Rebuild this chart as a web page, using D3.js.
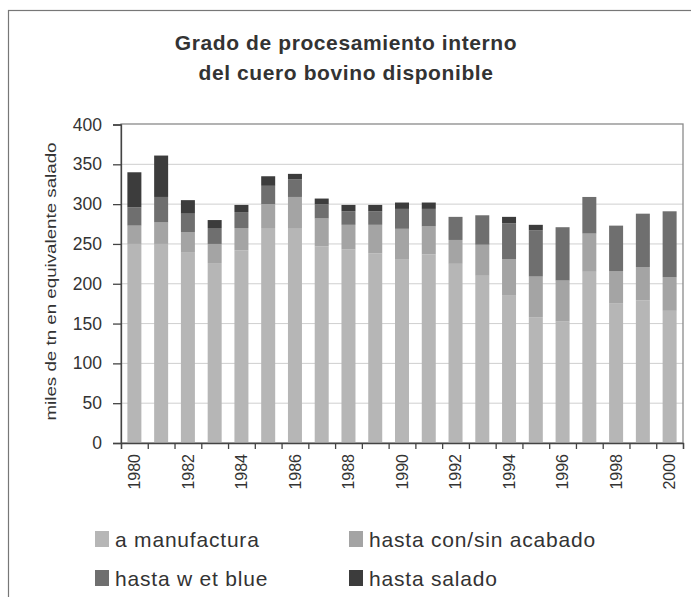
<!DOCTYPE html>
<html>
<head>
<meta charset="utf-8">
<script src="https://cdn.jsdelivr.net/npm/d3@7"></script>
<style>
  body { margin: 0; background: #fff; }
  text { font-family: "Liberation Sans", Arial, sans-serif; fill: #333; }
</style>
</head>
<body>
<script>
// years on the x axis
var years = [1980, 1981, 1982, 1983, 1984, 1985, 1986, 1987, 1988, 1989, 1990,
             1991, 1992, 1993, 1994, 1995, 1996, 1997, 1998, 1999, 2000];

// miles de tn (bottom to top)
var manufactura = [250, 250, 239, 226, 242, 270, 270, 247, 243, 238, 231, 237, 225, 210, 185, 158, 153, 215, 175, 179, 166];
var acabado     = [ 23,  27,  26,  24,  28,  30,  39,  35,  31,  36,  38,  35,  30,  39,  46,  51,  51,  48,  41,  42,  42];
var wetBlue     = [ 23,  32,  23,  20,  20,  23,  22,  18,  17,  17,  25,  22,  29,  37,  45,  58,  67,  46,  57,  67,  83];
var salado      = [ 44,  52,  17,  10,   9,  12,   7,   7,   8,   8,   8,   8,   0,   0,   8,   7,   0,   0,   0,   0,   0];

var seriesNames = ["a manufactura", "hasta con/sin acabado", "hasta w et blue", "hasta salado"];
var seriesKeys = ["manufactura", "acabado", "wetBlue", "salado"];
var colors = ["#b6b6b6", "#a4a4a4", "#6f6f6f", "#3c3c3c"];
var yTicks = [0, 50, 100, 150, 200, 250, 300, 350, 400];

var rows = years.map(function(yr, i){
  return {year: yr, manufactura: manufactura[i], acabado: acabado[i], wetBlue: wetBlue[i], salado: salado[i]};
});

var svg = d3.select("body")
   .append("svg")
   .attr("width", 691)
   .attr("height", 597);

// outer chart frame (runs off the page right and bottom)
svg.append("rect")
  .attr("x", 8.5).attr("y", 10.5)
  .attr("width", 700).attr("height", 620)
  .style("fill", "none").style("stroke", "#777").style("stroke-width", 1.2);

var plotL = 121, plotR = 683, plotT = 124, plotB = 443;

var x = d3.scaleBand().domain(years).range([plotL, plotR]).paddingInner(0.477).paddingOuter(0.2385);
var y = d3.scaleLinear().domain([0, 400]).range([plotB, plotT + 0.5]);

// gridlines
svg.append("g").selectAll("line")
  .data(yTicks.slice(1, -1))
  .enter().append("line")
  .attr("x1", plotL).attr("x2", plotR)
  .attr("y1", function(d){ return y(d); }).attr("y2", function(d){ return y(d); })
  .style("stroke", "#cfcfcf").style("stroke-width", 1);

// plot frame
svg.append("rect")
  .attr("x", plotL).attr("y", plotT)
  .attr("width", plotR - plotL).attr("height", plotB - plotT)
  .style("fill", "none").style("stroke", "#8a8a8a").style("stroke-width", 1.3);

// stacked bars
var stack = d3.stack().keys(seriesKeys);
var layers = stack(rows);

svg.append("g").selectAll("g")
  .data(layers)
  .enter().append("g")
  .style("fill", function(d, i){ return colors[i]; })
  .selectAll("rect")
  .data(function(d){ return d; })
  .enter().append("rect")
  .attr("x", function(d){ return x(d.data.year); })
  .attr("y", function(d){ return y(d[1]); })
  .attr("width", x.bandwidth())
  .attr("height", function(d){ return y(d[0]) - y(d[1]); });

// y axis
var yAxis = svg.append("g")
  .attr("transform", "translate(" + plotL + ",0)")
  .call(d3.axisLeft(y).tickValues(yTicks).tickSize(8).tickPadding(11));
yAxis.selectAll("text").style("font-size", "17.5px").style("fill", "#333");
yAxis.selectAll("line, path").style("stroke", "#444").style("stroke-width", 1.3);

// x axis: ticks on category boundaries
var xb = d3.scaleLinear().domain([0, years.length]).range([plotL, plotR]);
var xTickAxis = svg.append("g")
  .attr("transform", "translate(0," + plotB + ")")
  .call(d3.axisBottom(xb).tickValues(d3.range(years.length + 1)).tickSize(6).tickFormat(""));
xTickAxis.selectAll("line, path").style("stroke", "#444").style("stroke-width", 1.3);

// x labels, every second year, rotated
var xLab = svg.append("g")
  .attr("transform", "translate(0," + plotB + ")")
  .call(d3.axisBottom(x).tickSize(0).tickFormat(function(d){ return d % 2 === 0 ? d : ""; }));
xLab.select(".domain").remove();
xLab.selectAll("text")
  .attr("transform", "rotate(-90)")
  .attr("x", -11).attr("y", 0).attr("dy", "0.36em")
  .style("text-anchor", "end")
  .style("font-size", "16px").style("fill", "#333");

// y axis title
svg.append("text")
  .attr("transform", "translate(56," + ((plotT + plotB) / 2 - 2) + ") rotate(-90)")
  .attr("text-anchor", "middle")
  .attr("textLength", 278)
  .attr("lengthAdjust", "spacingAndGlyphs")
  .style("font-size", "14px")
  .text("miles de tn en equivalente salado");

// title
var titleLines = ["Grado de procesamiento interno", "del cuero bovino disponible"];
svg.append("g").selectAll("text")
  .data(titleLines)
  .enter().append("text")
  .attr("x", 346)
  .attr("y", function(d, i){ return 50 + i * 30; })
  .attr("text-anchor", "middle")
  .style("font-size", "21px").style("font-weight", "bold")
  .style("letter-spacing", "0.6px")
  .text(function(d){ return d; });

// legend
var legend = svg.append("g").selectAll("g")
  .data(seriesNames)
  .enter().append("g")
  .attr("transform", function(d, i){
    return "translate(" + (i % 2 === 0 ? 95 : 349) + "," + (i < 2 ? 539 : 578) + ")";
  });
legend.append("rect")
  .attr("x", 0).attr("y", -8)
  .attr("width", 14).attr("height", 16)
  .style("fill", function(d, i){ return colors[i]; });
legend.append("text")
  .attr("x", 20).attr("y", 0).attr("dy", "0.36em")
  .style("font-size", "21px")
  .style("letter-spacing", "0.8px")
  .text(function(d){ return d; });
</script>
</body>
</html>
